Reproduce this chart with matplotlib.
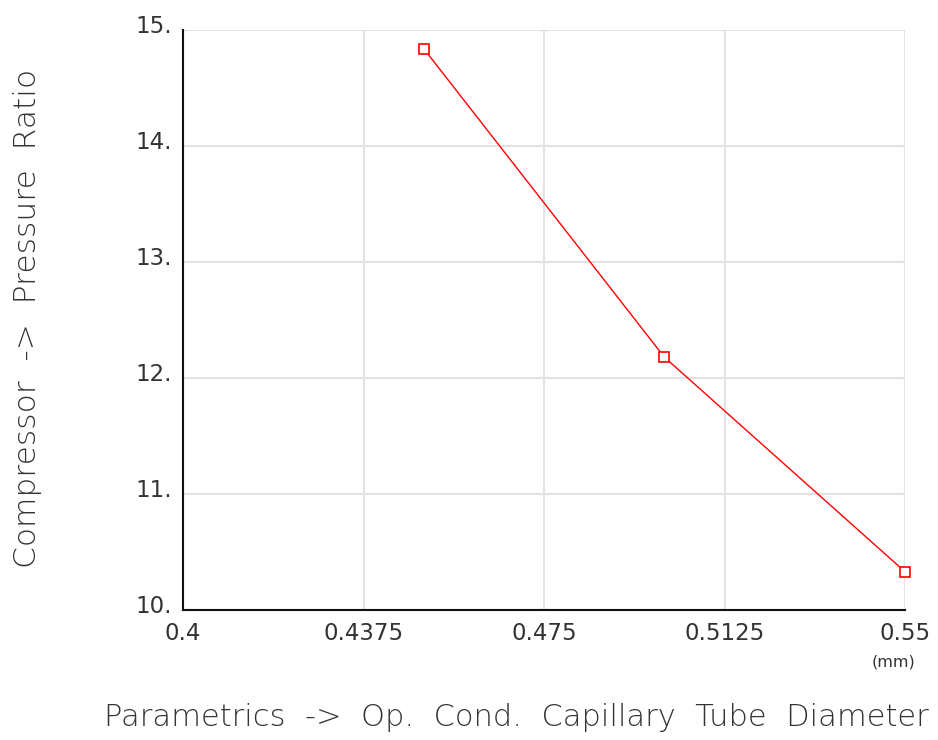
import matplotlib
matplotlib.use("Agg")
import matplotlib.pyplot as plt
from matplotlib.transforms import ScaledTranslation

# Capillary tube diameter (mm) vs compressor pressure ratio
diameter = [0.45, 0.50, 0.55]
pressure_ratio = [14.84, 12.18, 10.33]

x_ticks = [0.4, 0.4375, 0.475, 0.5125, 0.55]
x_tick_labels = ["0.4", "0.4375", "0.475", "0.5125", "0.55"]
y_ticks = [10, 11, 12, 13, 14, 15]
y_tick_labels = ["10.", "11.", "12.", "13.", "14.", "15."]

plt.rcParams["font.family"] = ["DejaVu Sans"]

fig = plt.figure(figsize=(9.38, 7.4), dpi=100)
ax = fig.add_axes([183 / 938, 1 - 610 / 740, (905 - 183) / 938, (610 - 30) / 740])

ax.plot(diameter, pressure_ratio, color="#ff0000", lw=1.0, marker="s",
        markersize=7, markerfacecolor="white", markeredgecolor="#ff0000",
        markeredgewidth=1.2, zorder=3, clip_on=False)

ax.set_xlim(0.4, 0.55)
ax.set_ylim(10, 15)
ax.set_xticks(x_ticks)
ax.set_xticklabels(x_tick_labels)
ax.set_yticks(y_ticks)
ax.set_yticklabels(y_tick_labels)

ax.grid(True, color="#e2e2e2", lw=1.5)
ax.set_axisbelow(True)
for side in ("top", "right"):
    ax.spines[side].set_visible(False)
ax.spines["left"].set_color("#111111")
ax.spines["bottom"].set_color("#111111")
ax.spines["left"].set_linewidth(1.5)
ax.spines["bottom"].set_linewidth(1.5)

ax.tick_params(axis="both", length=0, labelsize=16.5, labelcolor="#333333")
ax.tick_params(axis="x", pad=9)
ax.tick_params(axis="y", pad=8)
shift_up = ScaledTranslation(0, 6 / 100, fig.dpi_scale_trans)
for lbl in ax.get_yticklabels():
    lbl.set_transform(lbl.get_transform() + shift_up)

fig.text(893 / 938, 1 - 662 / 740, "(mm)", ha="center", va="center",
         fontsize=11.5, color="#333333")

fig.text(516 / 938, 1 - 718 / 740,
         "Parametrics  ->  Op.  Cond.  Capillary  Tube  Diameter",
         ha="center", va="center", fontsize=22, color="#333333",
         fontweight="light")
fig.text(28 / 938, 1 - 318 / 740, "Compressor  ->  Pressure  Ratio",
         ha="center", va="center", rotation=90, fontsize=22.5,
         color="#333333", fontweight="light")

fig.savefig("out.png", dpi=100, facecolor="white")
